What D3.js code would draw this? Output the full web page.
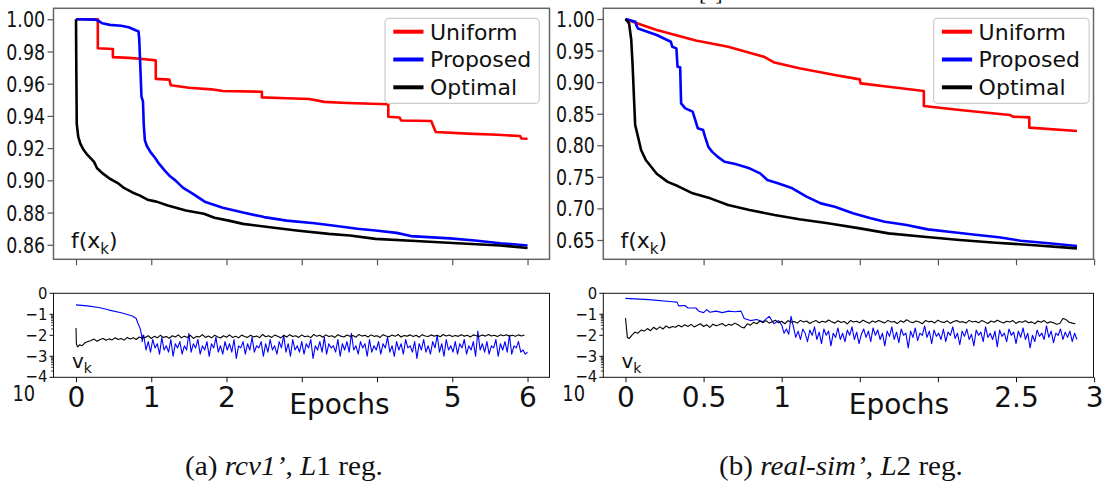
<!DOCTYPE html>
<html><head><meta charset="utf-8">
<script src="https://cdn.jsdelivr.net/npm/d3@7"></script>
<style>body{margin:0;background:#fff}svg{display:block}</style>
</head><body>
<svg id="c" width="1107" height="488"></svg>
<script>
// ---------------- data ----------------
const seriesNames = ["Uniform", "Proposed", "Optimal"];
const seriesColors = ["#ff0000", "#0000ff", "#000000"];

// (a) rcv1', top panel f(x_k): [epoch, value]
const rcvUniform = [[0,1.000],[0.29,1.000],[0.29,0.982],[0.49,0.9815],[0.49,0.9765],[0.7,0.976],[0.85,0.9755],[1.06,0.9745],[1.06,0.963],[1.24,0.9625],[1.26,0.959],[1.5,0.9575],[1.8,0.9565],[1.95,0.9555],[2.47,0.955],[2.47,0.9515],[2.8,0.951],[3.1,0.9505],[3.3,0.9487],[3.6,0.948],[4.15,0.9472],[4.15,0.9395],[4.3,0.939],[4.32,0.9372],[4.72,0.9368],[4.78,0.930],[5.2,0.929],[5.6,0.9283],[5.9,0.9275],[5.92,0.926],[6.0,0.9258]];
const rcvProposed = [[0,1.000],[0.25,0.9998],[0.3,0.999],[0.35,0.9975],[0.45,0.9965],[0.6,0.996],[0.7,0.995],[0.8,0.993],[0.83,0.9925],[0.84,0.988],[0.855,0.97],[0.87,0.952],[0.89,0.949],[0.9,0.935],[0.915,0.925],[0.94,0.9215],[0.99,0.9175],[1.05,0.914],[1.1,0.9105],[1.18,0.906],[1.25,0.9025],[1.32,0.9],[1.42,0.8955],[1.56,0.8915],[1.72,0.8865],[1.95,0.883],[2.22,0.880],[2.5,0.8772],[2.8,0.875],[3.17,0.8734],[3.41,0.872],[3.74,0.870],[3.98,0.8689],[4.26,0.8674],[4.45,0.8654],[4.97,0.864],[5.3,0.8627],[5.64,0.861],[6.0,0.8596]];
const rcvOptimal = [[0,1.0],[0.004,0.97],[0.01,0.935],[0.03,0.927],[0.06,0.9225],[0.1,0.919],[0.14,0.9165],[0.2,0.9135],[0.24,0.9115],[0.28,0.9075],[0.35,0.9045],[0.45,0.901],[0.55,0.8985],[0.63,0.8955],[0.75,0.8925],[0.85,0.8905],[0.95,0.888],[1.07,0.8868],[1.22,0.8844],[1.46,0.8813],[1.7,0.8793],[1.84,0.8768],[2.03,0.875],[2.22,0.873],[2.55,0.871],[2.93,0.8689],[3.36,0.8668],[3.64,0.8658],[3.98,0.8637],[4.45,0.8625],[5.07,0.861],[5.64,0.8596],[6.0,0.858]];

// (b) real-sim', top panel f(x_k)
const realUniform = [[0,1.0],[0.064,0.9942],[0.2,0.9826],[0.45,0.966],[0.657,0.9562],[0.885,0.9403],[0.954,0.931],[1.113,0.9219],[1.34,0.9113],[1.5,0.9044],[1.505,0.898],[1.684,0.8928],[1.91,0.886],[1.91,0.8622],[2.14,0.8559],[2.46,0.848],[2.48,0.8453],[2.585,0.8442],[2.585,0.8279],[2.89,0.8226]];
const realProposed = [[0,1.0],[0.064,0.9958],[0.07,0.99],[0.08,0.985],[0.2,0.9747],[0.29,0.964],[0.3,0.956],[0.326,0.9535],[0.333,0.9245],[0.35,0.9235],[0.356,0.8664],[0.383,0.8585],[0.43,0.8532],[0.447,0.84],[0.463,0.8268],[0.497,0.8241],[0.509,0.8136],[0.53,0.7978],[0.554,0.7899],[0.589,0.782],[0.634,0.774],[0.703,0.7703],[0.794,0.7635],[0.862,0.7555],[0.908,0.745],[0.976,0.7397],[1.068,0.7318],[1.159,0.7186],[1.25,0.708],[1.34,0.7027],[1.456,0.6922],[1.57,0.6843],[1.66,0.679],[1.80,0.6737],[1.935,0.6668],[2.07,0.6631],[2.254,0.6579],[2.39,0.6542],[2.53,0.6489],[2.71,0.6447],[2.89,0.6404]];
const realOptimal = [[0,1.0],[0.023,0.993],[0.037,0.9667],[0.046,0.9245],[0.055,0.8717],[0.062,0.8321],[0.075,0.8189],[0.1,0.7925],[0.13,0.7767],[0.2,0.755],[0.27,0.742],[0.338,0.735],[0.43,0.7239],[0.543,0.7159],[0.657,0.7054],[0.794,0.6975],[0.954,0.6896],[1.113,0.6827],[1.296,0.6764],[1.5,0.6684],[1.684,0.6605],[1.91,0.6552],[2.14,0.65],[2.37,0.6457],[2.596,0.642],[2.89,0.6367]];

// bottom panels v_k, values are log10 exponents
const rcvProposedVStart = [[0,-0.55],[0.15,-0.6],[0.3,-0.68],[0.42,-0.77],[0.44,-0.8],[0.6,-0.93],[0.75,-1.08],[0.8,-1.2],[0.82,-1.4],[0.85,-1.65],[0.87,-1.95],[0.88,-2.3],[0.89,-2.0]];
const rcvProposedVNoiseX = [0.9, 0.03];
const rcvProposedVNoise = [-2.0,-2.7,-2.3,-2.8,-2.2,-2.6,-2.4,-2.9,-2.1,-2.7,
-2.5,-2.8,-2.2,-3.0,-2.4,-2.6,-2.3,-2.9,-2.5,-2.7,
-1.9,-2.8,-2.4,-2.6,-2.2,-2.9,-2.5,-2.7,-2.3,-3.0,
-2.4,-2.6,-2.1,-2.8,-2.5,-2.9,-2.3,-2.7,-2.4,-2.8,
-2.2,-3.1,-2.5,-2.6,-2.3,-2.9,-2.4,-2.7,-2.1,-2.8,
-2.5,-2.6,-2.3,-3.0,-2.4,-2.8,-2.2,-2.7,-2.5,-2.9,
-2.3,-2.6,-2.0,-2.8,-2.4,-3.0,-2.2,-2.7,-2.5,-2.8,
-2.3,-2.9,-2.4,-2.6,-2.2,-3.1,-2.5,-2.7,-2.3,-2.8,
-2.1,-2.9,-2.4,-2.6,-2.5,-2.8,-2.2,-3.0,-2.4,-2.7,
-2.3,-2.8,-1.9,-2.7,-2.5,-2.9,-2.3,-2.6,-2.4,-3.0,
-2.2,-2.8,-2.5,-2.7,-2.3,-2.9,-2.4,-2.6,-2.1,-2.8,
-2.5,-3.0,-2.3,-2.7,-2.4,-2.9,-2.2,-2.6,-2.5,-2.8,
-2.3,-3.1,-2.4,-2.7,-2.2,-2.8,-2.5,-2.9,-2.3,-2.6,
-2.0,-2.8,-2.4,-3.0,-2.2,-2.7,-2.5,-2.8,-2.3,-2.9,
-2.4,-2.6,-2.2,-2.9,-2.5,-2.7,-2.3,-3.0,-1.8,-2.7,
-2.4,-2.8,-2.3,-2.9,-2.5,-2.6,-2.2,-3.0,-2.4,-2.7,
-2.3,-2.8,-2.0,-2.9,-2.5,-2.6,-2.3,-2.8,-2.7,-2.9,
-2.8];
const rcvOptimalVStart = [[0,-1.65],[0.005,-2.4],[0.02,-2.55],[0.05,-2.45],[0.08,-2.5],[0.12,-2.35],[0.16,-2.3]];
const rcvOptimalVNoiseX = [0.2, 0.04];
const rcvOptimalVNoise = [-2.25,-2.18,-2.28,-2.2,-2.15,-2.24,-2.17,-2.22,-2.12,-2.2,-2.15,-2.23,-2.1,-2.18,-2.12,-2.2,-2.08,-2.14,
-2.1,-2.02,-2.15,-2.05,-2.12,-2.0,-2.1,-2.06,-2.14,-2.02,
-2.08,-1.98,-2.12,-2.04,-2.1,-2.0,-2.15,-2.05,-2.08,-1.97,
-2.1,-2.03,-2.12,-2.0,-2.07,-2.13,-2.02,-2.09,-1.98,-2.1,
-2.04,-2.12,-1.99,-2.06,-2.1,-2.0,-2.08,-2.03,-2.11,-1.96,
-2.07,-2.02,-2.1,-1.99,-2.05,-2.12,-2.0,-2.08,-1.97,-2.06,
-2.02,-2.1,-1.98,-2.07,-2.03,-2.11,-1.96,-2.05,-2.0,-2.09,
-1.98,-2.06,-2.02,-2.1,-1.97,-2.04,-2.08,-1.99,-2.05,-2.01,
-2.09,-1.96,-2.04,-2.0,-2.08,-1.98,-2.05,-2.02,-2.1,-1.97,
-2.03,-2.07,-1.99,-2.05,-1.96,-2.08,-2.01,-2.04,-1.98,-2.06,
-2.0,-2.09,-1.97,-2.03,-2.06,-1.98,-2.04,-2.0,-2.07,-1.96,
-2.03,-1.99,-2.06,-2.01,-2.05,-1.97,-2.04,-2.0,-2.08,-1.98,
-2.02,-2.05,-1.99,-2.04,-1.96,-2.03,-2.0,-2.06,-1.98,-2.02,
-1.97,-2.04,-2.0,-2.05,-1.98,-2.03,-1.99];

const realProposedVStart = [[0,-0.24],[0.15,-0.3],[0.3,-0.4],[0.33,-0.42],[0.34,-0.6],[0.38,-0.58],[0.4,-0.7],[0.45,-0.7],[0.47,-0.85],[0.5,-0.92],[0.52,-0.78],[0.54,-0.9],[0.58,-0.85],[0.62,-0.92],[0.66,-0.85],[0.7,-0.88],[0.74,-0.85],[0.76,-1.2],[0.8,-1.3],[0.84,-1.25],[0.88,-1.35],[0.92,-1.1],[0.95,-1.45],[0.98,-1.3]];
const realProposedVNoiseX = [1.0, 0.015];
const realProposedVNoise = [-1.5,-1.9,-1.7,-1.95,-1.1,-1.6,-2.1,-1.8,-2.2,-1.7,
-1.9,-2.3,-1.75,-2.0,-1.6,-2.2,-1.85,-2.4,-1.7,-2.0,
-1.8,-2.5,-1.9,-2.1,-1.65,-2.2,-1.9,-2.3,-1.75,-2.0,
-1.6,-2.2,-1.85,-2.4,-1.95,-1.7,-2.1,-1.8,-2.3,-1.65,
-2.0,-1.75,-2.2,-1.9,-2.5,-1.8,-2.05,-1.6,-2.2,-1.85,
-2.35,-1.7,-2.0,-1.9,-2.6,-1.8,-2.1,-1.65,-2.25,-1.9,
-2.0,-1.55,-2.1,-1.8,-2.4,-1.75,-2.05,-1.9,-2.2,-1.7,
-2.3,-1.85,-2.0,-1.6,-2.15,-1.9,-2.45,-1.8,-2.05,-1.7,
-2.2,-1.95,-2.5,-1.75,-2.0,-1.85,-2.3,-1.6,-2.1,-1.9,
-2.2,-1.8,-2.55,-1.75,-2.05,-1.9,-2.3,-1.7,-2.0,-1.85,
-2.4,-1.8,-2.1,-1.65,-2.2,-1.9,-2.6,-2.0,-2.3,-1.75,
-2.05,-1.9,-2.2,-1.55,-2.1,-1.8,-2.35,-1.9,-2.0,-1.7,
-2.2,-1.85,-2.1,-1.8,-2.3,-1.9,-2.2];
const realOptimalVStart = [[0,-1.18],[0.012,-2.1],[0.025,-2.15]];
const realOptimalVNoiseX = [0.04, 0.02];
const realOptimalVNoise = [-2.0,-1.85,-1.9,-1.75,-1.8,-1.68,-1.78,-1.62,-1.72,-1.6,-1.7,-1.55,-1.65,-1.58,
-1.62,-1.52,-1.6,-1.5,-1.58,-1.48,-1.6,-1.52,-1.45,-1.58,-1.5,-1.62,-1.47,-1.55,-1.5,-1.44,-1.56,-1.48,-1.52,-1.42,-1.5,-1.6,-1.65,-1.45,-1.52,
-1.38,-1.45,-1.32,-1.4,-1.3,-1.42,-1.35,-1.28,-1.4,-1.33,
-1.45,-1.3,-1.38,-1.34,-1.42,-1.29,-1.37,-1.32,-1.44,-1.35,
-1.3,-1.4,-1.33,-1.38,-1.27,-1.36,-1.42,-1.31,-1.39,-1.34,
-1.46,-1.3,-1.37,-1.33,-1.4,-1.28,-1.35,-1.43,-1.32,-1.38,
-1.3,-1.36,-1.41,-1.29,-1.37,-1.34,-1.44,-1.31,-1.38,-1.26,
-1.35,-1.4,-1.32,-1.37,-1.45,-1.3,-1.36,-1.33,-1.41,-1.28,
-1.36,-1.39,-1.31,-1.43,-1.34,-1.3,-1.38,-1.35,-1.42,-1.29,
-1.37,-1.33,-1.4,-1.3,-1.36,-1.44,-1.32,-1.38,-1.28,-1.35,
-1.41,-1.33,-1.37,-1.3,-1.43,-1.34,-1.38,-1.31,-1.4,-1.36,
-1.45,-1.32,-1.38,-1.3,-1.42,-1.36,-1.4,-1.47,-1.44,-1.2,
-1.25,-1.38,-1.42,-1.45];

// ticks
const yTicksA = [0.86, 0.88, 0.90, 0.92, 0.94, 0.96, 0.98, 1.00];
const yTicksB = [0.65, 0.70, 0.75, 0.80, 0.85, 0.90, 0.95, 1.00];
const xTicksA = [0, 1, 2, 3, 4, 5, 6];
const xTickLabelsA = ["0", "1", "2", "", "", "5", "6"];
const xTicksB = [0, 0.5, 1, 1.5, 2, 2.5, 3];
const xTickLabelsB = ["0", "0.5", "1", "", "", "2.5", "3"];
const vExpTicks = [0, -1, -2, -3, -4];
const vMinorDecades = [-2, -4];
const captionA = [["(a) ", "normal"], ["rcv1\u2019", "italic"], [", ", "normal"], ["L", "italic"], ["1 reg.", "normal"]];
const captionB = [["(b) ", "normal"], ["real-sim\u2019", "italic"], [", ", "normal"], ["L", "italic"], ["2 reg.", "normal"]];

// ---------------- layout ----------------
const TOP = {y0: 8.3, y1: 259.3};
const BOT = {y0: 293.3, y1: 377.3};
const panels = [
  {x0: 53.5, x1: 549.5, xDom: [-0.299, 6.292], yDom: [0.851, 1.0068], yTicks: yTicksA,
   xTicks: xTicksA, xLabels: xTickLabelsA, epochsAt: 3.5,
   top: [rcvUniform, rcvProposed, rcvOptimal],
   bot: [[rcvProposedVStart, rcvProposedVNoiseX, rcvProposedVNoise, 1], [rcvOptimalVStart, rcvOptimalVNoiseX, rcvOptimalVNoise, 2]],
   legend: {x: 385, w: 154.3}, caption: captionA, capX: 185, capW: 198},
  {x0: 603.3, x1: 1093.5, xDom: [-0.142, 2.996], yDom: [0.6194, 1.01695], yTicks: yTicksB,
   xTicks: xTicksB, xLabels: xTickLabelsB, epochsAt: 1.75,
   top: [realUniform, realProposed, realOptimal],
   bot: [[realProposedVStart, realProposedVNoiseX, realProposedVNoise, 1], [realOptimalVStart, realOptimalVNoiseX, realOptimalVNoise, 2]],
   legend: {x: 933.6, w: 155.6}, caption: captionB, capX: 719, capW: 244}
];

const svg = d3.select("#c");
const SANS = "'DejaVu Sans', Verdana, sans-serif";
const SERIF = "'Liberation Serif', 'Times New Roman', Times, serif";
const TXT = "#111";
const defs = svg.append("defs");

// clipped top-center bracket fragment (cut off at the top edge in the reference too)
svg.append("text").attr("x", 699).attr("y", 0).attr("font-family", SERIF)
  .attr("font-size", 22).attr("fill", TXT).text("[\u2009\u2009]");

panels.forEach((P, pi) => {
  const x = d3.scaleLinear().domain(P.xDom).range([P.x0, P.x1]);
  const y = d3.scaleLinear().domain(P.yDom).range([TOP.y1, TOP.y0]);
  const yv = d3.scaleLog().domain([1e-4, 1]).range([BOT.y1, BOT.y0]);
  const g = svg.append("g");

  // ---- top panel ----
  defs.append("clipPath").attr("id", "ct" + pi).append("rect")
    .attr("x", P.x0).attr("y", TOP.y0).attr("width", P.x1 - P.x0).attr("height", TOP.y1 - TOP.y0);
  const line = d3.line().x(d => x(d[0])).y(d => y(d[1]));
  P.top.forEach((s, i) => {
    g.append("path").attr("d", line(s)).attr("fill", "none").attr("stroke", seriesColors[i])
      .attr("stroke-width", 2.6).attr("stroke-linejoin", "round").attr("clip-path", `url(#ct${pi})`);
  });
  g.append("rect").attr("x", P.x0).attr("y", TOP.y0).attr("width", P.x1 - P.x0).attr("height", TOP.y1 - TOP.y0)
    .attr("fill", "none").attr("stroke", "#666").attr("stroke-width", 1.5);

  const ya = g.append("g").attr("transform", `translate(${P.x0},0)`)
    .call(d3.axisLeft(y).tickValues(P.yTicks).tickFormat(d3.format(".2f")).tickSize(6).tickPadding(0));
  ya.select(".domain").remove();
  ya.selectAll(".tick line").attr("stroke", "#555").attr("stroke-width", 1.2);
  ya.selectAll(".tick text").attr("font-family", SANS).attr("font-size", 21).attr("fill", TXT)
    .attr("x", -10.2).attr("dy", "0.36em").attr("transform", "scale(0.83,1)");

  const xa = g.append("g").attr("transform", `translate(0,${TOP.y1})`)
    .call(d3.axisBottom(x).tickValues(P.xTicks).tickFormat("").tickSize(6));
  xa.select(".domain").remove();
  xa.selectAll(".tick line").attr("stroke", "#555").attr("stroke-width", 1.2);

  // legend
  const L = P.legend;
  g.append("rect").attr("x", L.x).attr("y", 18.3).attr("width", L.w).attr("height", 85).attr("rx", 4)
    .attr("fill", "#fff").attr("fill-opacity", 0.85).attr("stroke", "#cccccc").attr("stroke-width", 1.2);
  seriesNames.forEach((n, i) => {
    const ry = 31.7 + i * 27.8;
    g.append("line").attr("x1", L.x + 8.3).attr("x2", L.x + 38.5).attr("y1", ry).attr("y2", ry)
      .attr("stroke", seriesColors[i]).attr("stroke-width", 4);
    g.append("text").attr("x", L.x + 45).attr("y", ry).attr("dy", "0.36em").attr("font-family", SANS)
      .attr("font-size", 22).attr("fill", TXT).text(n);
  });

  // f(x_k) label
  const fl = g.append("text").attr("x", x(0) - 5).attr("y", 248.3).attr("font-family", SANS)
    .attr("font-size", 22).attr("fill", TXT);
  fl.append("tspan").text("f(x");
  fl.append("tspan").attr("dy", 6).attr("font-size", 15).text("k");
  fl.append("tspan").attr("dy", -6).text(")");

  // ---- bottom panel ----
  defs.append("clipPath").attr("id", "cb" + pi).append("rect")
    .attr("x", P.x0).attr("y", BOT.y0).attr("width", P.x1 - P.x0).attr("height", BOT.y1 - BOT.y0);
  const vline = d3.line().x(d => x(d[0])).y(d => yv(Math.pow(10, d[1])));
  P.bot.forEach(([start, nx, vals, ci]) => {
    const pts = start.concat(vals.map((v, i) => [nx[0] + i * nx[1], v]));
    g.append("path").attr("d", vline(pts)).attr("fill", "none").attr("stroke", seriesColors[ci])
      .attr("stroke-width", 1.1).attr("stroke-linejoin", "round").attr("clip-path", `url(#cb${pi})`);
  });
  g.append("rect").attr("x", P.x0).attr("y", BOT.y0).attr("width", P.x1 - P.x0).attr("height", BOT.y1 - BOT.y0)
    .attr("fill", "none").attr("stroke", "#111").attr("stroke-width", 1);

  // y ticks (log)
  vExpTicks.forEach(e => {
    const ty = yv(Math.pow(10, e));
    g.append("line").attr("x1", P.x0 - 4).attr("x2", P.x0).attr("y1", ty).attr("y2", ty).attr("stroke", "#111");
    const ly = Math.min(ty, BOT.y1 - 1.5);
    g.append("text").attr("transform", `translate(${P.x0 - 6},${ly}) scale(0.9,1)`).attr("dy", "0.36em")
      .attr("text-anchor", "end").attr("font-family", SANS).attr("font-size", 16.5).attr("fill", TXT)
      .text(e === 0 ? "0" : "\u2212" + Math.abs(e));
  });
  vMinorDecades.forEach(d => {
    d3.range(2, 10).forEach(m => {
      const ty = yv(m * Math.pow(10, d));
      g.append("line").attr("x1", P.x0 - 2.5).attr("x2", P.x0).attr("y1", ty).attr("y2", ty)
        .attr("stroke", "#111").attr("stroke-width", 0.8);
    });
  });
  g.append("text").attr("transform", `translate(${P.x0 - 41},401) scale(0.85,1)`).attr("font-family", SANS)
    .attr("font-size", 21).attr("fill", TXT).text("10");

  // x axis bottom
  const xb = g.append("g").attr("transform", `translate(0,${BOT.y1})`)
    .call(d3.axisBottom(x).tickValues(P.xTicks).tickFormat((d, i) => P.xLabels[i]).tickSize(5).tickPadding(5));
  xb.select(".domain").remove();
  xb.selectAll(".tick line").attr("stroke", "#111");
  xb.selectAll(".tick text").attr("font-family", SANS).attr("font-size", 28).attr("fill", TXT);
  g.append("text").attr("x", x(P.epochsAt)).attr("y", 414).attr("text-anchor", "middle")
    .attr("font-family", SANS).attr("font-size", 28).attr("fill", TXT).text("Epochs");

  // v_k label
  const vl = g.append("text").attr("x", x(0) - 4).attr("y", 368).attr("font-family", SANS)
    .attr("font-size", 20).attr("fill", TXT);
  vl.append("tspan").text("v");
  vl.append("tspan").attr("dy", 5).attr("font-size", 14).text("k");

  // caption
  const cap = svg.append("text").attr("font-family", SERIF).attr("font-size", 28).attr("fill", TXT);
  P.caption.forEach(([t, st]) => cap.append("tspan").attr("font-style", st).text(t));
  const w = cap.node().getComputedTextLength();
  cap.attr("transform", `translate(${P.capX},475) scale(${P.capW / w},1)`);
});
</script>
</body></html>
